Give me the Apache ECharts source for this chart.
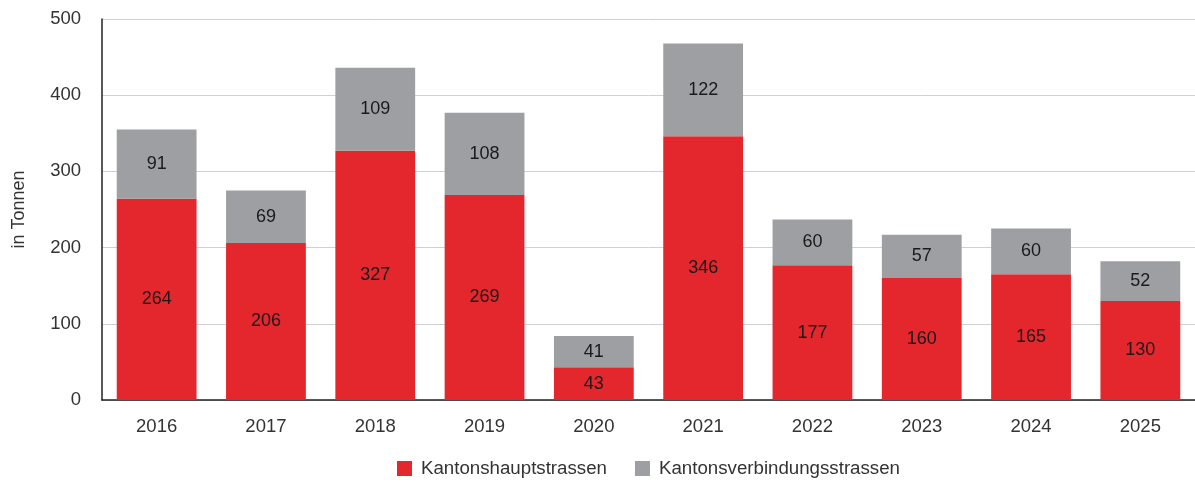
<!DOCTYPE html>
<html>
<head>
<meta charset="utf-8">
<style>
  html, body { margin: 0; padding: 0; background: #fff; }
  #chart { width: 1195px; height: 483px; }
</style>
<script src="https://cdn.jsdelivr.net/npm/echarts@6/dist/echarts.min.js"></script>
</head>
<body>
<div id="chart"></div>
<script>
// Jahre und Werte (in Tonnen)
var years = ['2016', '2017', '2018', '2019', '2020', '2021', '2022', '2023', '2024', '2025'];
var hauptstrassen = [264, 206, 327, 269, 43, 346, 177, 160, 165, 130];
var verbindungsstrassen = [91, 69, 109, 108, 41, 122, 60, 57, 60, 52];

var chart = echarts.init(document.getElementById('chart'));

var labelStyle = {
  show: true,
  position: 'inside',
  color: '#1a1a1a',
  fontSize: 18,
  fontFamily: 'Liberation Sans'
};

var option = {
  animation: false,
  textStyle: { fontFamily: 'Liberation Sans' },
  grid: { left: 102, right: 0, top: 19, bottom: 83 },
  legend: {
    left: 392,
    top: 454,
    itemWidth: 15,
    itemHeight: 15,
    itemGap: 28,
    icon: 'rect',
    textStyle: { fontSize: 18.7, color: '#333', fontFamily: 'Liberation Sans', padding: [0, 0, 0, 4] },
    data: ['Kantonshauptstrassen', 'Kantonsverbindungsstrassen']
  },
  xAxis: {
    type: 'category',
    data: years,
    axisLine: { lineStyle: { color: '#222', width: 1.5 } },
    axisTick: { show: false },
    axisLabel: { fontSize: 18.5, color: '#333', margin: 17 }
  },
  yAxis: {
    type: 'value',
    min: 0,
    max: 500,
    interval: 100,
    name: 'in Tonnen',
    nameLocation: 'middle',
    nameRotate: 90,
    nameGap: 74,
    nameTextStyle: { fontSize: 18, color: '#333' },
    axisLine: { show: true, lineStyle: { color: '#222', width: 1.5 } },
    axisTick: { show: false },
    axisLabel: { fontSize: 18.5, color: '#333', margin: 21 },
    splitLine: { lineStyle: { color: '#d0d0d0' } }
  },
  series: [
    {
      name: 'Kantonshauptstrassen',
      type: 'bar',
      stack: 'total',
      barWidth: '73%',
      itemStyle: { color: '#e4262d' },
      label: labelStyle,
      data: hauptstrassen
    },
    {
      name: 'Kantonsverbindungsstrassen',
      type: 'bar',
      stack: 'total',
      barWidth: '73%',
      itemStyle: { color: '#9d9fa2' },
      label: labelStyle,
      data: verbindungsstrassen
    }
  ]
};

chart.setOption(option);
</script>
</body>
</html>
